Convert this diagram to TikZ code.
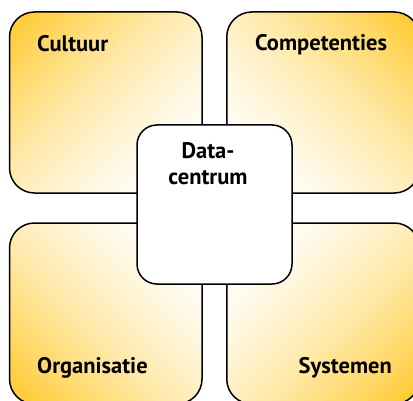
\documentclass[tikz,border=0pt]{standalone}
\usepackage{fontspec}
\usetikzlibrary{calc}
\setmainfont{PT Sans}
\definecolor{gold}{RGB}{255,200,38}
\newcommand{\diagfade}[1]{%
  \coordinate (M) at (path picture bounding box.center);
  \fill[gold] ($(M)+(#1:-160)+(#1+90:220)$) -- ($(M)+(#1:160)+(#1+90:220)$)
     -- ($(M)+(#1:160)+(#1-90:220)$) -- ($(M)+(#1:-160)+(#1-90:220)$) -- cycle;
  \foreach \i in {1,...,59}{%
    \pgfmathsetmacro\xx{-133+\i*266/60}%
    \pgfmathtruncatemacro\pp{100*(1-\i/60)^1.7}%
    \fill[gold!\pp!white] ($(M)+(#1:\xx)+(#1+90:220)$) -- ($(M)+(#1:160)+(#1+90:220)$)
     -- ($(M)+(#1:160)+(#1-90:220)$) -- ($(M)+(#1:\xx)+(#1-90:220)$) -- cycle;
  }}
\begin{document}
\begin{tikzpicture}[x=1pt,y=1pt,
  quad/.style={draw=black,line width=1.5pt,rounded corners=25pt,
    minimum width=192.5pt,minimum height=181pt,inner sep=0pt},
  quadTL/.style={quad,path picture={\diagfade{-45}}},
  quadTR/.style={quad,path picture={\diagfade{-135}}},
  quadBL/.style={quad,path picture={\diagfade{45}}},
  quadBR/.style={quad,path picture={\diagfade{135}}},
  hub/.style={draw=black,line width=1.5pt,rounded corners=20pt,fill=white,
    minimum width=155pt,minimum height=159pt,inner sep=0pt},
  lbl/.style={font=\fontsize{22.5}{25}\selectfont\bfseries,inner sep=0pt}]
\useasboundingbox (0,0) rectangle (413,400);
\node[quadTL] (tl) at (105.75,297.5) {};
\node[quadTR] (tr) at (323,297.5) {};
\node[quadBL] (bl) at (105.75,86.5) {};
\node[quadBR] (br) at (323,86.5) {};
\node[hub] (c) at (214.5,195.5) {};
\node[lbl,anchor=base west] (tlt) at (37,348) {Cultuur};
\node[lbl,anchor=base west] (trt) at (255,349) {Competenties};
\node[lbl,anchor=base west] (blt) at (37,27) {Organisatie};
\node[lbl,anchor=base east] (brt) at (392,27) {Systemen};
\node[lbl,align=center,anchor=base] (ct) at (208,216) {Data-\\centrum};
\end{tikzpicture}
\end{document}
